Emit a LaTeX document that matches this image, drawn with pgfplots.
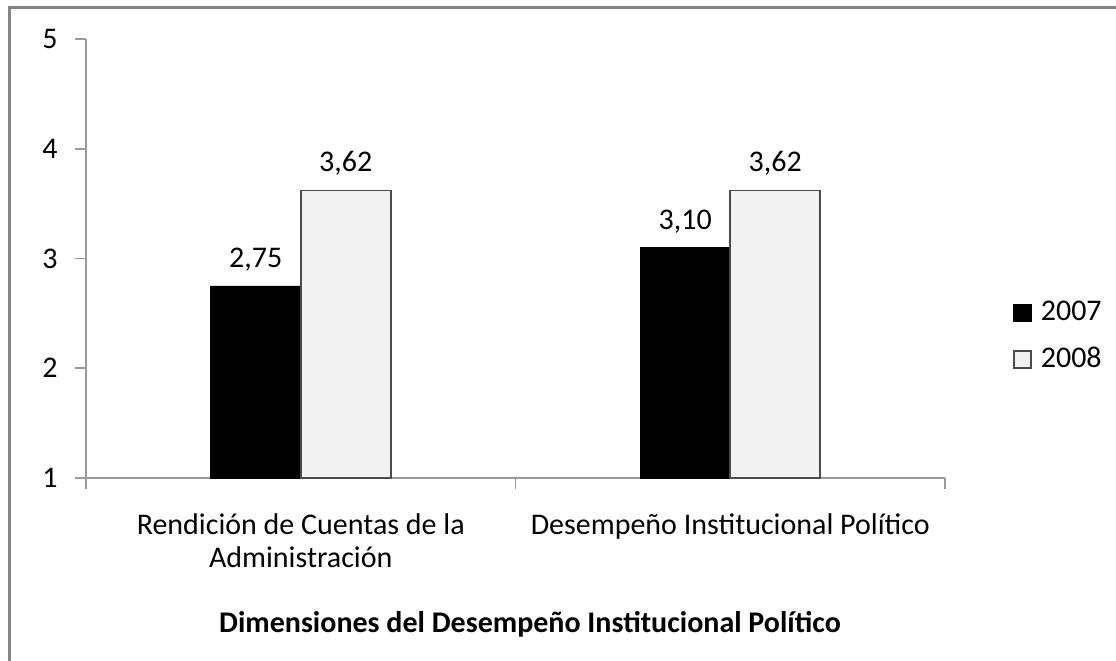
\documentclass[border=0pt]{standalone}
\usepackage{pgfplots}
\pgfplotsset{compat=1.18}
\usepackage{fontspec}
\setmainfont{Carlito}
\definecolor{lightbar}{HTML}{F2F2F2}
\definecolor{framegray}{HTML}{858585}
\definecolor{axgray}{HTML}{9A9A9A}
\begin{document}
\fontsize{15pt}{15pt}\selectfont
\begin{tikzpicture}
\useasboundingbox (-43pt,-91pt) rectangle (515pt,239pt);
\fill[white] (-43pt,-91pt) rectangle (515pt,239pt);
\draw[framegray, line width=1.5pt] (-38pt,-95pt) -- (-38pt,235pt) -- (520pt,235pt);
\begin{axis}[
  scale only axis,
  width=429.5pt, height=219.5pt,
  ymin=1, ymax=5, ytick={1,2,3,4,5},
  xmin=-0.5, xmax=1.5,
  xtick={0,1},
  xticklabels={{Rendición de Cuentas de la\\Administración},{Desempeño Institucional Político}},
  xticklabel style={align=center, anchor=north, yshift=-7pt, font=\fontsize{15pt}{16.5pt}\selectfont},
  minor xtick={-0.5,0.5,1.5},
  major x tick style={draw=none},
  axis x line*=bottom, axis y line*=left,
  axis line style={draw=axgray, line width=0.8pt, -},
  tick style={draw=axgray, line width=0.8pt},
  tick align=outside,
  major tick length=5.5pt, minor tick length=5.5pt,
  yticklabel style={xshift=-3.5pt, font=\fontsize{15pt}{15pt}\selectfont},
  /pgf/number format/assume math mode=true,
  ybar=0pt, bar width=45pt,
  nodes near coords,
  nodes near coords style={/pgf/number format/fixed, /pgf/number format/fixed zerofill, /pgf/number format/precision=2, /pgf/number format/use comma, /pgf/number format/assume math mode=true, yshift=2pt, font=\fontsize{15pt}{15pt}\selectfont},
  legend style={draw=none, at={(1.072,0.322)}, anchor=west, row sep=7pt, font=\fontsize{15pt}{15pt}\selectfont, fill=none},
  legend cell align=left,
  legend image code/.code={\draw[#1, line width=0.8pt] (0pt,-4.25pt) rectangle (8.5pt,4.25pt); \path (11pt,0pt);},
  xlabel={\bfseries Dimensiones del Desempeño Institucional Político},
  xlabel style={at={(0.5,0)}, anchor=base, yshift=-77pt, xshift=7.25pt, font=\fontsize{15pt}{15pt}\selectfont},
]
\addplot[fill=black, draw=black] coordinates {(0,2.75) (1,3.10)};
\addplot[fill=lightbar, draw=black!70, line width=0.8pt] coordinates {(0,3.62) (1,3.62)};
\legend{2007,2008}
\end{axis}
\end{tikzpicture}
\end{document}
